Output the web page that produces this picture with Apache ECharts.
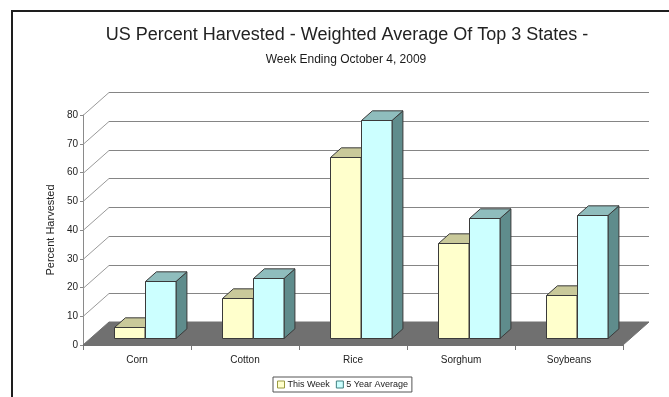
<!DOCTYPE html>
<html>
<head>
<meta charset="utf-8">
<script src="https://cdn.jsdelivr.net/npm/echarts@6/dist/echarts.min.js"></script>
<style>
  html, body { margin: 0; padding: 0; background: #ffffff; }
  #chart { width: 669px; height: 397px; }
</style>
</head>
<body>
<div id="chart"></div>
<script>
// Crops and harvest progress (percent)
const categories = ['Corn', 'Cotton', 'Rice', 'Sorghum', 'Soybeans'];
const thisWeek = [4, 14, 63, 33, 15];
const fiveYearAvg = [20, 21, 76, 42, 43];
const yTicks = [0, 10, 20, 30, 40, 50, 60, 70, 80];
const seriesNames = ['This Week', '5 Year Average'];

// Oblique projection used for the 3D look: screen offset of the full depth
const DEPTH = [26, -23];
const BAR_FRONT = 0.29;   // bars start this far into the depth
const BAR_BACK = 0.71;    // and end here
const BAR_FRAC = 0.282;   // bar width as a share of the category band

const FONT = '"Liberation Sans", Arial, sans-serif';

const palettes = [
  { front: '#FFFFCC', top: '#C9C99A', side: '#9C9C6C', line: '#3a3a3a' },
  { front: '#CCFFFF', top: '#8FBDBD', side: '#5F8C8C', line: '#3a3a3a' }
];

// Floor plus the grid lines on the side and back walls
function renderWalls(params, api) {
  const cs = params.coordSys;
  const x0 = cs.x, x1 = cs.x + cs.width;
  const y0 = api.coord([0, 0])[1];
  const children = [{
    type: 'polygon',
    shape: { points: [[x0, y0], [x1, y0], [x1 + DEPTH[0], y0 + DEPTH[1]], [x0 + DEPTH[0], y0 + DEPTH[1]]] },
    style: { fill: '#707070', stroke: '#707070', lineWidth: 1 }
  }];
  yTicks.forEach(function (v) {
    if (v === 0) return;
    const y = Math.round(api.coord([0, v])[1]) + 0.5;
    children.push({
      type: 'line',
      shape: { x1: x0, y1: y, x2: x0 + DEPTH[0], y2: y + DEPTH[1] },
      style: { stroke: '#9a9a9a', lineWidth: 1 }
    });
    children.push({
      type: 'line',
      shape: { x1: x0 + DEPTH[0], y1: y + DEPTH[1], x2: x1 + DEPTH[0], y2: y + DEPTH[1] },
      style: { stroke: '#858585', lineWidth: 1 }
    });
  });
  return { type: 'group', children: children };
}

function makeBarRenderer(seriesIndex) {
  const c = palettes[seriesIndex];
  return function (params, api) {
    const cat = api.value(0);
    const v = api.value(1);
    const base = api.coord([cat, 0]);
    const top = api.coord([cat, v]);
    const band = api.size([1, 0])[0];
    const w = band * BAR_FRAC;
    const fx = DEPTH[0] * BAR_FRONT, fy = DEPTH[1] * BAR_FRONT;
    const dx = DEPTH[0] * (BAR_BACK - BAR_FRONT), dy = DEPTH[1] * (BAR_BACK - BAR_FRONT);
    const left = Math.round(base[0] + fx + (seriesIndex === 0 ? -w : 0)) + 0.5;
    const right = Math.round(left + w);
    const yb = Math.round(base[1] + fy) + 0.5;
    const yt = Math.round(top[1] + fy) + 0.5;
    return {
      type: 'group',
      children: [
        {
          type: 'polygon',
          shape: { points: [[right, yb], [right + dx, yb + dy], [right + dx, yt + dy], [right, yt]] },
          style: { fill: c.side, stroke: c.line, lineWidth: 1 }
        },
        {
          type: 'polygon',
          shape: { points: [[left, yt], [right, yt], [right + dx, yt + dy], [left + dx, yt + dy]] },
          style: { fill: c.top, stroke: c.line, lineWidth: 1 }
        },
        {
          type: 'rect',
          shape: { x: left, y: yt, width: right - left, height: yb - yt },
          style: { fill: c.front, stroke: c.line, lineWidth: 1 }
        }
      ]
    };
  };
}

const chart = echarts.init(document.getElementById('chart'), null, { renderer: 'canvas' });

chart.setOption({
  backgroundColor: '#ffffff',
  animation: false,
  title: [
    {
      text: 'US Percent Harvested - Weighted Average Of Top 3 States -',
      left: 347, top: 26, textAlign: 'center', padding: 0,
      textStyle: { fontFamily: FONT, fontSize: 18, fontWeight: 'normal', color: '#222', lineHeight: 18 }
    },
    {
      text: 'Week Ending October 4, 2009',
      left: 346, top: 54, textAlign: 'center', padding: 0,
      textStyle: { fontFamily: FONT, fontSize: 12, fontWeight: 'normal', color: '#1a1a1a', lineHeight: 12 }
    }
  ],
  legend: {
    left: 273, top: 377,
    padding: [3, 4],
    itemGap: 6,
    itemWidth: 7, itemHeight: 7,
    icon: 'rect',
    borderColor: '#555', borderWidth: 1,
    textStyle: { fontFamily: FONT, fontSize: 9, color: '#222', padding: [0, 0, 0, -2] },
    data: [
      { name: seriesNames[0], itemStyle: { color: '#FFFFCC', borderColor: '#9a9a40', borderWidth: 1 } },
      { name: seriesNames[1], itemStyle: { color: '#CCFFFF', borderColor: '#3f8080', borderWidth: 1 } }
    ]
  },
  grid: { left: 83, right: 46, top: 115, bottom: 52 },
  xAxis: {
    type: 'category',
    data: categories,
    boundaryGap: true,
    axisLine: { show: true, lineStyle: { color: '#707070', width: 1 } },
    axisTick: { show: true, length: 5, lineStyle: { color: '#777' } },
    axisLabel: { fontFamily: FONT, fontSize: 10, color: '#222', margin: 10 },
    splitLine: { show: false }
  },
  yAxis: {
    type: 'value',
    min: 0, max: 80, interval: 10,
    name: 'Percent Harvested',
    nameLocation: 'middle',
    nameRotate: 90,
    nameGap: 14,
    nameTextStyle: { fontFamily: FONT, fontSize: 11, color: '#222' },
    axisLine: { show: true, lineStyle: { color: '#8a8a8a', width: 1 } },
    axisTick: { show: true, length: 3, lineStyle: { color: '#8a8a8a' } },
    axisLabel: { fontFamily: FONT, fontSize: 10, color: '#222', margin: 5 },
    splitLine: { show: false }
  },
  graphic: [
    {
      type: 'rect',
      shape: { x: 12, y: 11, width: 800, height: 500 },
      style: { fill: 'none', stroke: '#1e1e1e', lineWidth: 2 },
      silent: true
    }
  ],
  series: [
    {
      type: 'custom',
      name: 'walls',
      renderItem: renderWalls,
      data: [[0, 0]],
      encode: { x: 0, y: 1 },
      silent: true,
      z: 1
    },
    {
      type: 'custom',
      name: seriesNames[0],
      renderItem: makeBarRenderer(0),
      itemStyle: { color: '#FFFFCC', borderColor: '#9a9a40' },
      data: thisWeek.map(function (v, i) { return [i, v]; }),
      encode: { x: 0, y: 1 },
      z: 2
    },
    {
      type: 'custom',
      name: seriesNames[1],
      renderItem: makeBarRenderer(1),
      itemStyle: { color: '#CCFFFF', borderColor: '#3f8080' },
      data: fiveYearAvg.map(function (v, i) { return [i, v]; }),
      encode: { x: 0, y: 1 },
      z: 3
    }
  ]
});
</script>
</body>
</html>
